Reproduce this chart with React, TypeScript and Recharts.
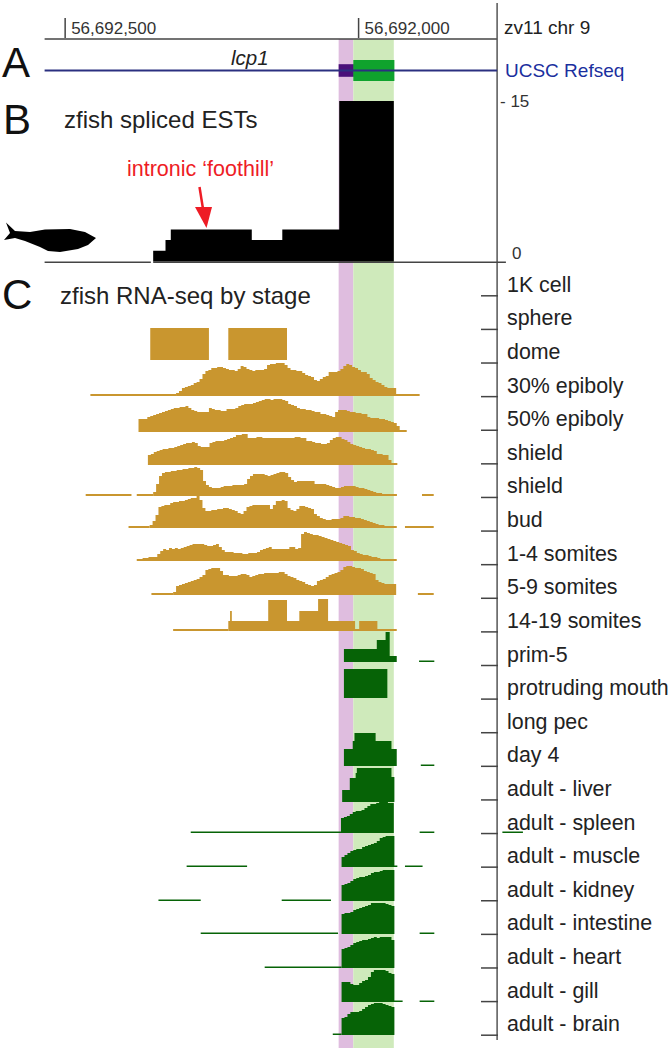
import { Area, AreaChart, Bar, BarChart, ComposedChart, Line, ReferenceArea, ReferenceLine, XAxis, YAxis } from "recharts";

// all positions are bp to the right of chromStart (the gene runs right to left on chr9)
const chromStart = 56692500;
const rulerTicks = [0, 500];
const viewBp = [-111, 1034];
const railBp = [-35, 736];
const utrSpan = [466, 491];
const cdsSpan = [491, 560];
const binBp = 5;

const estEdges = [150, 171, 180, 318, 370, 467, 560];
const estCounts = [1, 2, 3, 2, 3, 15, 15];

const stages = [
  "1K cell", "sphere", "dome", "30% epiboly", "50% epiboly", "shield", "shield", "bud",
  "1-4 somites", "5-9 somites", "14-19 somites", "prim-5", "protruding mouth", "long pec", "day 4",
  "adult - liver", "adult - spleen", "adult - muscle", "adult - kidney", "adult - intestine",
  "adult - heart", "adult - gill", "adult - brain",
];

// coverage per 5 bp bin
const epi30 = [3,5,8,9,10,11,13,14,17,22,25,26,28,28,29,29,28,27,26,26,25,27,30,29,27,26,25,26,26,26,27,31,
  32,32,33,33,33,31,28,26,26,25,25,23,21,20,19,16,15,17,19,20,24,24,24,25,27,30,32,31,29,28,26,24,24,22,18,16,14,13,11,9,8,8,8];
const epi50 = [13,13,13,15,16,17,18,19,20,21,22,23,24,24,25,25,26,24,22,21,20,20,20,20,24,23,22,22,21,21,23,23,23,24,26,27,28,28,28,29,30,31,32,33,33,
  32,33,33,33,32,31,28,27,26,24,23,23,22,22,21,20,20,18,18,17,16,15,20,22,22,22,21,20,20,19,19,18,18,15,14,14,14,13,13,12,11,10,9,6];
const shieldA = [10,11,13,14,15,16,16,17,17,18,19,20,21,22,22,23,22,19,18,18,18,22,23,24,24,24,25,26,27,28,30,30,31,31,27,27,27,28,28,27,27,27,
  27,27,27,27,27,27,27,27,28,28,27,27,24,24,23,22,22,21,21,22,25,27,28,28,26,25,23,21,20,19,18,17,16,16,15,14,11,11,10,10,5];
const shieldB = [4,12,20,23,24,24,25,25,26,26,27,27,28,28,29,28,26,15,11,9,8,8,8,9,10,10,10,11,11,11,11,12,17,20,22,22,22,22,21,20,
  21,22,23,24,24,23,19,16,14,15,15,15,15,15,15,12,12,12,12,11,10,9,8,8,9,10,10,10,10,9,8,8,7,6,5,4,3,3,2,2,2,2,2];
const bud = [3,7,13,21,22,23,23,25,26,26,27,27,28,29,30,30,32,28,20,17,17,18,18,19,19,20,20,19,18,17,15,14,17,21,22,23,23,23,23,23,23,
  19,23,27,27,28,27,20,18,17,19,22,22,21,20,19,14,12,10,9,8,8,9,9,9,10,12,12,11,11,10,10,9,8,7,6,5,4,3,3,2,2,2,2];
const somite1 = [2,2,3,3,4,4,4,7,10,12,11,13,12,13,12,13,14,15,16,17,17,17,17,16,15,15,16,17,14,11,9,9,9,8,8,8,7,7,8,8,8,9,11,12,13,14,
  12,12,12,12,12,12,14,14,12,13,27,29,28,27,26,26,25,24,23,22,21,20,19,18,17,16,15,11,10,8,7,6,6,5,4,4,3,2,2,2,2,2];
const somite5 = [3,9,10,11,12,13,14,15,16,18,20,25,26,27,27,27,24,20,20,19,19,19,20,21,21,20,18,19,20,21,21,22,22,
  22,22,22,23,23,21,19,18,17,15,14,13,11,10,9,10,14,15,16,18,20,21,22,23,25,28,29,29,28,27,27,26,24,23,22,21,15,13,12,11,11,11,11];
const spleen = [15,16,17,19,21,22,22,23,25,27,29,29,30,31,31,31,30,30];
const muscle = [10,12,14,16,17,18,18,20,21,22,23,24,26,29,30,31,31,31];
const kidney = [16,17,18,20,22,23,24,24,25,26,28,29,29,30,31,31,31,31];
const intestine = [20,21,21,22,24,25,26,27,28,29,31,31,31,31,31,30,29,28];
const heart = [19,20,21,23,25,26,27,28,28,29,30,31,30,31,31,31,31,28];
const gill = [20,20,20,18,17,17,19,21,22,25,30,32,32,32,32,31,29,28];
const brain = [17,18,21,23,23,23,24,26,28,30,31,32,32,32,31,30,29,28];

// blocky tracks: bin edges and level after each edge
const somite14Edges = [278, 281, 284, 346, 378, 399, 431, 448, 494, 501, 532, 565];
const somite14Levels = [10, 20, 10, 31, 10, 20, 32, 10, 2, 10, 2, 2];
const prim5Edges = [475, 531, 546, 553, 565];
const prim5Levels = [13, 22, 30, 6, 6];
const mouthEdges = [475, 549];
const mouthLevels = [29, 29];
const day4Edges = [475, 490, 493, 529, 556, 565];
const day4Levels = [17, 25, 33, 25, 17, 17];
const liverEdges = [472, 485, 495, 497, 556, 561];
const liverLevels = [12, 24, 29, 34, 25, 25];
const domeEdgesA = [145, 245];
const domeEdgesB = [278, 378];
const domeLevels = [32, 32];

type Pt = { x: number; c: number };
const bins = (start: number, cov: number[]): Pt[] => [
  ...cov.map((c, i) => ({ x: start + i * binBp, c })),
  { x: start + cov.length * binBp, c: cov[cov.length - 1] },
];
const steps = (edges: number[], levels: number[]): Pt[] => edges.map((x, i) => ({ x, c: levels[i] }));

const tan = "#c9962f";
const green = "#066306";

type Track = { baseline: number; color: string; runs: Pt[][]; stubs?: number[][] };

const tracks: Track[] = [
  { baseline: 360, color: tan, runs: [steps(domeEdgesA, domeLevels), steps(domeEdgesB, domeLevels)] },
  { baseline: 396, color: tan, runs: [bins(189, epi30)], stubs: [[43, 189], [560, 604]] },
  { baseline: 431.7, color: tan, runs: [bins(125, epi50)], stubs: [[550, 582]] },
  { baseline: 465, color: tan, runs: [bins(141, shieldA)], stubs: [[550, 566]] },
  { baseline: 496, color: tan, runs: [bins(150, shieldB)], stubs: [[35, 113], [122, 150], [550, 565], [608, 628]] },
  { baseline: 527.7, color: tan, runs: [bins(144, bud)], stubs: [[108, 144], [550, 565], [579, 628]] },
  { baseline: 561, color: tan, runs: [bins(122, somite1)], stubs: [[550, 565]] },
  { baseline: 595, color: tan, runs: [bins(184, somite5)], stubs: [[147, 184], [601, 628]] },
  { baseline: 630.7, color: tan, runs: [steps(somite14Edges, somite14Levels)], stubs: [[184, 278]] },
  { baseline: 662.3, color: green, runs: [steps(prim5Edges, prim5Levels)], stubs: [[603, 629]] },
  { baseline: 698.3, color: green, runs: [steps(mouthEdges, mouthLevels)] },
  { baseline: 765.7, color: green, runs: [steps(day4Edges, day4Levels)], stubs: [[606, 629]] },
  { baseline: 801.7, color: green, runs: [steps(liverEdges, liverLevels)] },
  { baseline: 833.3, color: green, runs: [bins(470, spleen)], stubs: [[214, 470], [604, 629], [745, 780]] },
  { baseline: 866.7, color: green, runs: [bins(471, muscle)], stubs: [[207, 310], [560, 566], [579, 609]] },
  { baseline: 900.7, color: green, runs: [bins(471, kidney)], stubs: [[159, 231], [369, 453]] },
  { baseline: 934, color: green, runs: [bins(471, intestine)], stubs: [[231, 465], [604, 629]] },
  { baseline: 967.7, color: green, runs: [bins(471, heart)], stubs: [[340, 471]] },
  { baseline: 1001.7, color: green, runs: [bins(471, gill)], stubs: [[560, 575], [604, 629]] },
  { baseline: 1035, color: green, runs: [bins(471, brain)], stubs: [[456, 471]] },
];

const W = 672;
const trackH = 40;
const font = "'Liberation Sans', Arial, sans-serif";

const RulerTick = ({ x, payload }: any) => (
  <g>
    <line x1={x} x2={x} y1={18} y2={38} stroke="#444" strokeWidth={1.5} />
    <text x={x + 6} y={34} fontSize={17} fontFamily={font} fill="#333">
      {(chromStart - payload.value).toLocaleString("en-US")}
    </text>
  </g>
);

const StageTick = ({ x, y, payload }: any) => (
  <g>
    <line x1={x - 17} x2={x} y1={y + 11} y2={y + 11} stroke="#444" strokeWidth={1.5} />
    <text x={x + 9} y={y + 7} fontSize={21.4} fontFamily={font} fill="#222">
      {payload.value}
    </text>
  </g>
);

function Backdrop() {
  const rows = [{ x: utrSpan[0], v: 0 }, { x: cdsSpan[1], v: 0 }];
  return (
    <ComposedChart width={W} height={1050} data={rows} margin={{ top: 38, right: 0, bottom: 2, left: 0 }}>
      <XAxis
        type="number"
        dataKey="x"
        orientation="top"
        domain={viewBp}
        allowDataOverflow
        ticks={rulerTicks}
        height={1}
        axisLine={false}
        tickLine={false}
        tick={<RulerTick />}
        interval={0}
      />
      <YAxis hide type="number" domain={[0, 1010]} allowDataOverflow reversed />
      <ReferenceArea x1={utrSpan[0]} x2={utrSpan[1]} fill="#dfbddf" fillOpacity={1} ifOverflow="visible" />
      <ReferenceArea x1={cdsSpan[0]} x2={cdsSpan[1]} fill="#cfeabb" fillOpacity={1} ifOverflow="visible" />
      <ReferenceLine segment={[{ x: railBp[0], y: 0 }, { x: railBp[1], y: 0 }]} stroke="#444" strokeWidth={1.5} ifOverflow="visible" />
      <ReferenceLine segment={[{ x: railBp[1], y: -36 }, { x: railBp[1], y: 1002 }]} stroke="#555" strokeWidth={1.5} ifOverflow="visible" />
      <ReferenceLine segment={[{ x: railBp[0], y: 223.5 }, { x: 146, y: 223.5 }]} stroke="#444" strokeWidth={1.5} ifOverflow="visible" />
      <ReferenceLine segment={[{ x: 150, y: 223.5 }, { x: 751, y: 223.5 }]} stroke="#444" strokeWidth={1.5} ifOverflow="visible" />
      <Line dataKey="v" stroke="none" dot={false} activeDot={false} isAnimationActive={false} />
    </ComposedChart>
  );
}

function GeneTrack() {
  const rows = [{ x: railBp[0], v: 0 }, { x: railBp[1], v: 0 }];
  return (
    <ComposedChart width={W} height={21} data={rows} margin={{ top: 0, right: 0, bottom: 0, left: 0 }}>
      <XAxis hide type="number" dataKey="x" domain={viewBp} allowDataOverflow />
      <YAxis hide type="number" domain={[-10, 10]} allowDataOverflow />
      <Line dataKey="v" stroke="#2b3080" strokeWidth={2} dot={false} activeDot={false} isAnimationActive={false} />
      <ReferenceArea isFront x1={utrSpan[0]} x2={cdsSpan[0] + 1} y1={-6} y2={6} fill="#4a107a" fillOpacity={1} />
      <ReferenceArea isFront x1={cdsSpan[0]} x2={cdsSpan[1] + 1} y1={-10} y2={10} fill="#0fa32d" fillOpacity={1} />
    </ComposedChart>
  );
}

function EstTrack() {
  const rows = estEdges.map((x, i) => ({ x, c: estCounts[i] }));
  return (
    <AreaChart width={W} height={160.5} data={rows} margin={{ top: 0, right: 0, bottom: 0, left: 0 }}>
      <XAxis hide type="number" dataKey="x" domain={viewBp} />
      <YAxis hide type="number" domain={[0, 15]} />
      <Area type="stepAfter" dataKey="c" stroke="none" fill="#000" fillOpacity={1} dot={false} isAnimationActive={false} />
    </AreaChart>
  );
}

function CoverageTrack({ track }: { track: Track }) {
  const stubH = track.color === tan ? 2 : 1.5;
  return (
    <div style={{ position: "absolute", left: 0, top: track.baseline - trackH, width: W, height: trackH }}>
      <AreaChart width={W} height={trackH} margin={{ top: 0, right: 0, bottom: 0, left: 0 }}>
        <XAxis hide type="number" dataKey="x" domain={viewBp} allowDataOverflow />
        <YAxis hide type="number" domain={[0, trackH]} />
        {track.runs.map((run, i) => (
          <Area
            key={i}
            data={run}
            type="stepAfter"
            dataKey="c"
            stroke="none"
            fill={track.color}
            fillOpacity={1}
            dot={false}
            activeDot={false}
            isAnimationActive={false}
          />
        ))}
        {(track.stubs ?? []).map((s, i) => (
          <Area
            key={"s" + i}
            data={[{ x: s[0], c: stubH }, { x: s[1], c: stubH }]}
            type="linear"
            dataKey="c"
            stroke="none"
            fill={track.color}
            fillOpacity={1}
            dot={false}
            activeDot={false}
            isAnimationActive={false}
          />
        ))}
      </AreaChart>
    </div>
  );
}

function StageAxis() {
  const rows = stages.map((stage) => ({ stage, v: 0 }));
  return (
    <BarChart layout="vertical" width={W} height={1050} data={rows} margin={{ top: 268, right: 0, bottom: 9, left: 497 }}>
      <XAxis hide type="number" domain={[0, 1]} allowDataOverflow />
      <YAxis
        type="category"
        dataKey="stage"
        width={1}
        interval={0}
        axisLine={false}
        tickLine={false}
        tickSize={0}
        tickMargin={0}
        tick={<StageTick />}
      />
      <Bar dataKey="v" isAnimationActive={false} />
    </BarChart>
  );
}

function Notes() {
  const t = { fontFamily: font };
  return (
    <svg width={W} height={1050} style={{ position: "absolute", left: 0, top: 0 }}>
      <text x={2} y={77} fontSize={42} fill="#111" {...t}>A</text>
      <text x={3} y={133.5} fontSize={42} fill="#111" {...t}>B</text>
      <text x={2} y={309} fontSize={42} fill="#111" {...t}>C</text>
      <text x={231} y={65} fontSize={20.5} fontStyle="italic" fill="#222" {...t}>lcp1</text>
      <text x={64} y={128} fontSize={24} fill="#222" {...t}>zfish spliced ESTs</text>
      <text x={60} y={304} fontSize={24} fill="#222" {...t}>zfish RNA-seq by stage</text>
      <text x={127} y={176} fontSize={21.5} fill="#ee1c25" {...t}>intronic ‘foothill’</text>
      <text x={504} y={34} fontSize={19} fill="#222" {...t}>zv11 chr 9</text>
      <text x={505} y={77} fontSize={19} fill="#1a2f9e" {...t}>UCSC Refseq</text>
      <text x={500} y={107} fontSize={17} fill="#333" {...t}>- 15</text>
      <text x={512} y={259} fontSize={17} fill="#333" {...t}>0</text>
      <line x1={199.5} y1={187} x2={203.5} y2={212} stroke="#ee1c25" strokeWidth={2.5} />
      <path d="M195 207 L212 207 L206.5 228 Z" fill="#ee1c25" />
      <path
        d="M6 222.5 L15 231 L30 232 L45 229.5 L70 229 L85 232 L96 238 L88 245 L78 249 L60 252 L48 251 L40 247 L25 241 L15 238 L4 240 L10 233 Z"
        fill="#000"
      />
    </svg>
  );
}

export default function App() {
  return (
    <div style={{ position: "absolute", left: 0, top: 0, width: W, height: 1050, background: "#fff", overflow: "hidden" }}>
      <div style={{ position: "absolute", left: 0, top: 0 }}>
        <Backdrop />
      </div>
      <div style={{ position: "absolute", left: 0, top: 60 }}>
        <GeneTrack />
      </div>
      <div style={{ position: "absolute", left: 0, top: 101 }}>
        <EstTrack />
      </div>
      {tracks.map((track, i) => (
        <CoverageTrack key={i} track={track} />
      ))}
      <div style={{ position: "absolute", left: 0, top: 0 }}>
        <StageAxis />
      </div>
      <Notes />
    </div>
  );
}
